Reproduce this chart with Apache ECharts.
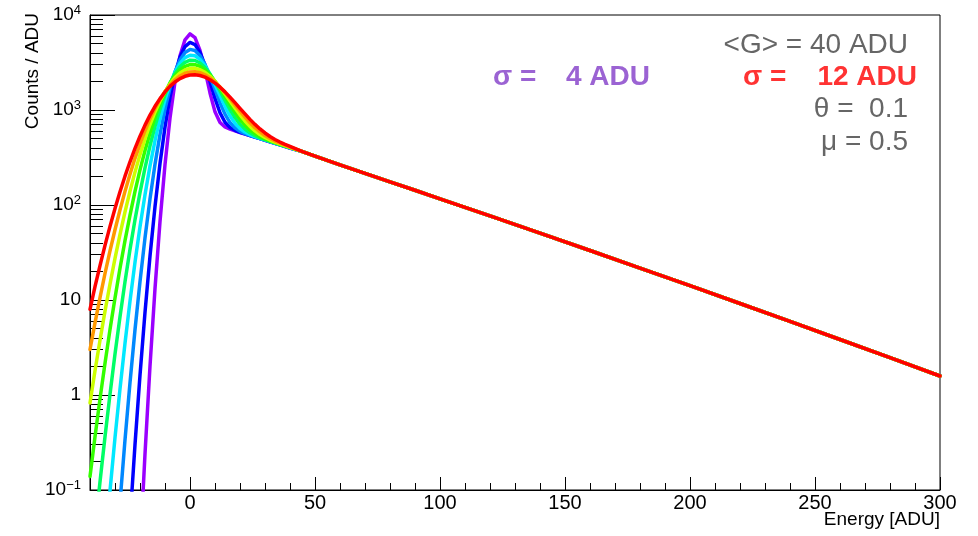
<!DOCTYPE html>
<html>
<head>
<meta charset="utf-8">
<script src="https://cdn.jsdelivr.net/npm/echarts@6/dist/echarts.min.js"></script>
<style>
html,body{margin:0;padding:0;background:#ffffff;}
#chart{width:978px;height:536px;}
</style>
</head>
<body>
<div id="chart"></div>
<script>
// ---------- data ----------
const sigmas = [4, 5, 6, 7, 8, 9, 10, 11, 12];
const colors = ['#9a00ff', '#0000ff', '#0088ff', '#00e8ff', '#00ff66', '#33ff00', '#ccff00', '#ff9900', '#ff0000'];

// x positions of the near-peak samples (ADU)
const xNear = [-40,-38,-36,-34,-32,-30,-28,-26,-24,-22,-20,-18,-16,-14,-12,-10,-8,-6,-4,-2,
               0,2,4,6,8,10,12,14,16,18,20,22,24,26,28,30,32,34,36,38,40];

// Counts / ADU for each sigma at xNear (null = not drawn, far below 0.1)
const ySigma4 = [null,null,null,null,null,null,null,null,null,null,
  0.0221,0.240,2.02,13.2,67.0,266,822,1981,3728,5485,
  6332,5779,4245,2624,1511,956,740,663,628,603,580,559,538,518,499,480,463,446,429,413,398];
const ySigma5 = [null,null,null,null,null,null,null,null,
  0.0472,0.301,1.62,7.41,28.9,96.3,273,661,1365,2404,3617,4656,
  5139,4889,4045,2966,2001,1325,935,743,655,611,583,560,539,519,500,481,463,446,430,414,398];
const ySigma6 = [null,null,null,null,null,null,
  0.0739,0.337,1.35,4.86,15.6,45.1,116,268,554,1025,1700,2526,3367,4031,
  4343,4223,3727,3016,2276,1648,1193,904,738,648,597,565,541,520,501,482,464,447,431,415,399];
const ySigma7 = [null,null,null,
  0.0255,0.0982,0.356,1.16,3.51,9.74,25.0,59.0,128,258,477,815,1283,1865,2502,3101,3554,
  3772,3715,3409,2931,2383,1859,1421,1092,868,726,639,586,551,524,503,484,465,448,432,416,400];
const ySigma8 = [null,
  0.0374,0.122,0.364,1.02,2.70,6.68,15.6,34.1,70.0,135,246,420,674,1016,1442,1924,2415,2856,3181,
  3343,3319,3122,2793,2388,1969,1584,1261,1012,833,710,629,575,537,510,487,468,450,433,417,401];
const ySigma9 = [0.139,0.364,0.910,2.16,4.90,10.5,21.6,42.2,78.4,139,234,375,573,834,1156,1526,1921,2305,2638,2882,
  3008,3003,2872,2640,2339,2009,1684,1390,1142,946,799,692,616,563,525,496,473,453,435,418,403];
const ySigma10 = [0.822,1.80,3.77,7.60,14.7,27.4,49.1,84.5,140,222,339,498,703,954,1244,1561,1885,2190,2449,2638,
  2739,2744,2656,2489,2263,2003,1734,1476,1245,1049,890,766,672,603,551,513,483,459,439,421,405];
const ySigma11 = [3.01,5.75,10.6,19.0,32.8,54.9,88.9,139,211,310,440,605,806,1038,1295,1565,1832,2078,2284,2435,
  2518,2529,2469,2346,2174,1969,1748,1527,1319,1133,973,840,735,652,588,539,501,471,447,426,408];
const ySigma12 = [7.99,13.8,23.0,37.6,59.5,91.8,138,201,285,394,530,693,883,1094,1319,1549,1771,1972,2140,2263,
  2334,2348,2307,2216,2083,1920,1739,1551,1367,1196,1042,909,797,705,632,573,526,489,460,435,414];
const ySeries = [ySigma4, ySigma5, ySigma6, ySigma7, ySigma8, ySigma9, ySigma10, ySigma11, ySigma12];

// common exponential tail (all sigmas coincide here)
const xTail = [45,50,60,70,80,90,100,120,140,160,180,200,220,240,260,280,300];
const yTail = [365,327,265,215,175,143,116,76.8,50.6,33.2,21.7,14.2,9.19,5.95,3.84,2.47,1.585];

// axis ticks / labels
const xMajorTicks = [0,50,100,150,200,250,300];
const xMinorTicks = [-30,-20,-10,10,20,30,40,60,70,80,90,110,120,130,140,160,170,180,190,
                     210,220,230,240,260,270,280,290];
const yMajorTicks = [0.1,1,10,100,1000,10000];
const yTickLabels = ['10{sup|\u22121}','1','10','10{sup|2}','10{sup|3}','10{sup|4}'];
const yMinorTicks = [0.2,0.3,0.4,0.5,0.6,0.7,0.8,0.9,2,3,4,5,6,7,8,9,20,30,40,50,60,70,80,90,
                     200,300,400,500,600,700,800,900,2000,3000,4000,5000,6000,7000,8000,9000];

const textFont = '"Liberation Sans", Arial, Helvetica, sans-serif';

// ---------- chart ----------
const chart = echarts.init(document.getElementById('chart'), null, {renderer: 'canvas'});

const series = sigmas.map(function (s, i) {
  const pts = [];
  ySeries[i].forEach(function (v, j) { if (v !== null) pts.push([xNear[j], v]); });
  xTail.forEach(function (x, j) { pts.push([x, yTail[j]]); });
  return {
    name: 'sigma ' + s,
    type: 'line',
    data: pts,
    showSymbol: false,
    symbol: 'none',
    clip: true,
    silent: true,
    z: 2 + i,
    lineStyle: {width: 3.5, color: colors[i], join: 'round', cap: 'round'},
    itemStyle: {color: colors[i]}
  };
});

const option = {
  animation: false,
  backgroundColor: '#ffffff',
  grid: {left: 90, right: 38, top: 15, bottom: 46, show: true, borderColor: '#000', borderWidth: 1, backgroundColor: 'transparent'},
  xAxis: [
    {
      type: 'value', min: -40, max: 300, position: 'bottom',
      axisLine: {show: true, onZero: false, lineStyle: {color: '#000', width: 1}},
      axisTick: {show: true, inside: true, length: 13, customValues: xMajorTicks, lineStyle: {color: '#000', width: 1}},
      axisLabel: {show: true, customValues: xMajorTicks, color: '#000', fontSize: 20, fontFamily: textFont, margin: 3},
      splitLine: {show: false}
    },
    {
      type: 'value', min: -40, max: 300, position: 'bottom',
      axisLine: {show: false, onZero: false},
      axisTick: {show: true, inside: true, length: 7, customValues: xMinorTicks, lineStyle: {color: '#000', width: 1}},
      axisLabel: {show: false},
      splitLine: {show: false}
    }
  ],
  yAxis: [
    {
      type: 'log', logBase: 10, min: 0.1, max: 10000, position: 'left',
      axisLine: {show: true, onZero: false, lineStyle: {color: '#000', width: 1}},
      axisTick: {show: true, inside: true, length: 25, customValues: yMajorTicks, lineStyle: {color: '#000', width: 1}},
      axisLabel: {
        show: true, customValues: yMajorTicks, color: '#000', fontSize: 19, fontFamily: textFont, margin: 9,
        formatter: function (v) {
          const i = yMajorTicks.findIndex(function (t) { return Math.abs(Math.log10(t) - Math.log10(v)) < 1e-6; });
          return i >= 0 ? yTickLabels[i] : '';
        },
        rich: {sup: {fontSize: 13, fontFamily: textFont, color: '#000', padding: [0, 0, 9, 0]}}
      },
      splitLine: {show: false}
    },
    {
      type: 'log', logBase: 10, min: 0.1, max: 10000, position: 'left',
      axisLine: {show: false, onZero: false},
      axisTick: {show: true, inside: true, length: 13, customValues: yMinorTicks, lineStyle: {color: '#000', width: 1}},
      axisLabel: {show: false},
      splitLine: {show: false}
    }
  ],
  series: series,
  graphic: [
    {type: 'text', x: 33, y: 13, rotation: Math.PI / 2,
     style: {text: 'Counts / ADU', font: '19px ' + textFont, fill: '#000', textAlign: 'right', textVerticalAlign: 'middle'}},
    {type: 'text', x: 940, y: 520,
     style: {text: 'Energy [ADU]', font: '19px ' + textFont, fill: '#000', textAlign: 'right', textVerticalAlign: 'middle'}},
    {type: 'text', x: 908, y: 45,
     style: {text: '<G> = 40 ADU', font: '28px ' + textFont, fill: '#666666', textAlign: 'right', textVerticalAlign: 'middle'}},
    {type: 'text', x: 493, y: 77,
     style: {text: '\u03c3 =', font: 'bold 28px ' + textFont, fill: '#9b63d3', textAlign: 'left', textVerticalAlign: 'middle'}},
    {type: 'text', x: 650, y: 77,
     style: {text: '4 ADU', font: 'bold 28px ' + textFont, fill: '#9b63d3', textAlign: 'right', textVerticalAlign: 'middle'}},
    {type: 'text', x: 743, y: 77,
     style: {text: '\u03c3 =', font: 'bold 28px ' + textFont, fill: '#ff3333', textAlign: 'left', textVerticalAlign: 'middle'}},
    {type: 'text', x: 917, y: 77,
     style: {text: '12 ADU', font: 'bold 28px ' + textFont, fill: '#ff3333', textAlign: 'right', textVerticalAlign: 'middle'}},
    {type: 'text', x: 908, y: 109,
     style: {text: '\u03b8 =  0.1', font: '28px ' + textFont, fill: '#666666', textAlign: 'right', textVerticalAlign: 'middle'}},
    {type: 'text', x: 908, y: 142,
     style: {text: '\u03bc = 0.5', font: '28px ' + textFont, fill: '#666666', textAlign: 'right', textVerticalAlign: 'middle'}}
  ]
};
chart.setOption(option);
</script>
</body>
</html>
